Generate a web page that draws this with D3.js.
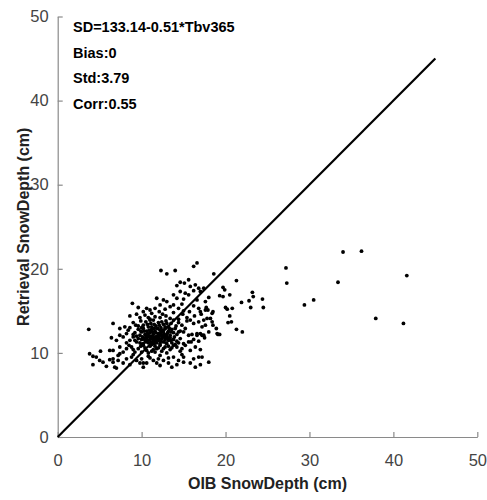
<!DOCTYPE html>
<html>
<head>
<meta charset="utf-8">
<script src="https://cdn.jsdelivr.net/npm/d3@7"></script>
<style>
  body { margin: 0; background: #fff; }
  text { font-family: "Liberation Sans", Arial, sans-serif; }
</style>
</head>
<body>
<svg id="chart"></svg>
<script>
// OIB snow depth vs retrieved snow depth (cm)
const points = [
  // y 8-9
  [4.2,8.6],[5.8,8.4],[6.8,8.3],[7.0,8.2],[7.8,8.8],[8.6,8.6],[9.8,8.8],[10.2,8.3],[10.2,8.8],[10.6,8.8],
  [11.8,8.8],[13.2,8.8],[13.6,8.3],[15.0,8.9],[15.8,8.8],[16.4,8.3],[17.0,8.6],[18.0,8.9],[12.2,8.5],[14.2,8.6],
  // y 9-10
  [3.8,9.9],[4.2,9.6],[4.6,9.5],[5.0,9.1],[5.4,8.9],[6.2,9.2],[6.6,8.9],[6.6,9.3],[7.2,9.1],[7.2,9.7],
  [7.4,9.9],[8.8,9.5],[9.4,9.1],[10.0,9.3],[11.4,9.1],[12.6,9.1],[13.8,9.5],[14.4,9.1],[15.0,9.5],[16.2,9.3],
  [16.8,9.5],[17.2,9.5],[12.2,9.7],[10.8,9.6],[9.0,9.8],[11.0,9.4],[13.2,9.4],[12.0,9.3],[14.8,9.8],[8.2,9.3],
  // y 10-11
  [5.1,10.2],[6.2,10.3],[6.6,10.3],[7.4,10.7],[7.8,10.1],[8.2,10.5],[8.8,10.7],[9.2,10.1],[9.6,10.5],[10.0,10.1],
  [10.8,10.0],[11.6,10.1],[13.0,10.0],[14.2,10.7],[14.8,10.5],[15.8,10.3],[17.0,10.4],[10.4,10.6],[11.0,10.8],[11.4,10.4],
  [12.0,10.6],[12.4,10.2],[12.8,10.7],[13.4,10.4],[13.8,10.9],[9.9,10.8],[10.6,10.3],[12.2,10.9],[11.8,10.5],[13.2,10.8],
  [16.4,10.7],[15.2,10.9],[9.0,10.4],[8.5,10.9],[14.6,10.2],[11.2,10.2],[12.6,10.5],[10.2,10.9],[13.6,10.6],[11.6,10.8],
  // y 11-12
  [6.4,11.8],[7.0,11.5],[7.8,11.9],[8.6,11.5],[9.0,11.9],[9.4,11.3],[14.6,11.7],[15.0,11.1],[15.6,11.3],[15.9,11.3],
  [9.8,11.2],[10.0,11.6],[10.2,11.1],[10.4,11.5],[10.6,11.8],[10.8,11.2],[11.0,11.6],[11.2,11.0],[11.4,11.4],[11.6,11.8],
  [11.8,11.2],[12.0,11.5],[12.2,11.1],[12.4,11.7],[12.6,11.3],[12.8,11.6],[13.0,11.1],[13.2,11.5],[13.4,11.8],[13.6,11.2],
  [13.8,11.6],[14.0,11.0],[14.2,11.4],[10.1,11.9],[10.9,11.9],[11.3,11.7],[11.7,11.5],[12.5,11.9],[12.9,11.2],[13.5,11.5],
  [9.6,11.7],[16.2,11.6],[16.8,11.4],[17.5,11.8],[8.2,11.2],[10.5,11.3],[11.1,11.3],[12.3,11.4],[11.9,11.8],[10.3,11.7],
  [9.2,11.5],[10.7,11.5],[11.5,11.1],[12.7,11.9],[13.1,11.8],[14.4,11.2],[12.1,11.7],[11.3,11.9],[10.0,11.0],[13.9,11.9],
  // y 12-13
  [7.4,12.1],[8.2,12.3],[8.4,12.7],[7.4,12.9],[9.2,12.4],[9.6,12.8],[9.8,12.1],[10.0,12.5],[10.2,12.9],[10.4,12.2],
  [10.6,12.6],[10.8,12.1],[11.0,12.4],[11.2,12.8],[11.4,12.2],[11.6,12.6],[11.8,12.0],[12.0,12.3],[12.2,12.7],[12.4,12.1],
  [12.6,12.5],[12.8,12.9],[13.0,12.2],[13.2,12.6],[13.4,12.1],[13.6,12.8],[13.8,12.4],[14.2,12.2],[14.6,12.6],[15.0,12.5],
  [15.6,12.1],[16.0,12.2],[16.6,12.3],[17.2,12.1],[17.0,12.3],[17.4,12.1],[18.0,12.5],[19.0,12.3],[19.1,12.2],[19.3,12.2],
  [18.9,12.9],[16.6,12.1],[10.3,12.6],[11.1,12.0],[11.5,12.9],[12.3,12.4],[12.9,12.0],[13.5,12.5],[10.9,12.7],[14.0,12.9],
  [15.2,12.9],[9.4,12.0],[3.7,12.8],[21.3,12.8],[22.0,12.5],[10.7,12.3],[11.3,12.5],[12.1,12.0],[11.9,12.9],[12.7,12.2],
  [9.0,12.2],[9.9,12.6],[11.7,12.4],[12.5,12.7],[13.3,12.9],[10.5,12.0],[14.4,12.5],[13.1,12.4],
  // y 13-14
  [6.6,13.5],[8.0,13.1],[9.0,13.6],[9.6,13.2],[9.9,13.8],[10.2,13.3],[10.5,13.7],[10.8,13.1],[11.1,13.5],[11.4,13.9],
  [11.7,13.2],[12.0,13.6],[12.3,13.0],[12.6,13.4],[12.9,13.8],[13.2,13.1],[13.5,13.5],[13.8,13.9],[14.1,13.2],[14.4,13.6],
  [14.8,13.3],[15.8,13.9],[16.2,13.5],[16.8,13.7],[17.2,13.1],[17.6,13.3],[17.4,13.9],[18.5,13.3],[18.4,13.7],[15.4,13.8],
  [10.0,13.0],[11.0,13.9],[12.4,13.7],[11.5,13.4],[13.0,13.5],[20.3,13.6],[20.7,13.7],[37.9,14.1],[41.2,13.5],[8.6,13.0],
  [9.3,13.3],[10.7,13.4],[12.1,13.3],[11.2,13.1],[12.8,13.1],
  // y 14-15
  [8.6,14.4],[9.8,14.2],[10.2,14.9],[10.4,14.5],[10.8,14.2],[11.2,14.7],[11.6,14.3],[12.1,14.9],[12.5,14.6],[12.2,14.2],
  [12.9,14.4],[13.8,14.8],[13.4,14.1],[14.9,14.6],[15.4,14.2],[15.7,14.9],[16.3,14.4],[17.1,14.6],[17.0,14.9],[18.2,14.1],
  [18.4,14.7],[18.5,14.9],[17.8,14.1],[20.5,14.4],[11.0,14.0],[9.4,14.6],[14.4,14.0],
  // y 15-16
  [8.9,15.9],[10.6,15.3],[11.0,15.1],[11.6,15.3],[12.2,15.7],[13.4,15.5],[13.8,15.7],[14.4,15.3],[16.8,15.3],[17.6,15.1],
  [17.7,15.4],[17.9,15.1],[20.0,15.4],[20.2,15.2],[20.8,15.3],[23.0,15.4],[24.5,15.4],[12.8,15.2],[14.8,15.8],[16.2,15.6],
  [9.6,15.4],[15.0,15.0],[29.4,15.7],
  // y 16-17
  [11.8,16.5],[12.6,16.3],[13.0,16.1],[14.2,16.5],[15.6,16.9],[13.8,16.9],[17.6,16.1],[19.3,16.8],[19.7,16.7],[20.5,16.9],
  [21.9,16.0],[22.8,16.2],[23.3,16.7],[24.4,16.4],[15.0,16.4],[16.6,16.3],[18.0,16.6],[30.5,16.3],
  // y 17-18
  [14.6,17.3],[15.2,17.1],[15.8,17.9],[16.8,17.7],[17.0,17.3],[17.4,17.7],[19.9,17.5],[19.7,17.8],[23.2,17.2],[14.2,18.0],
  [16.2,17.4],
  // y 18 and above
  [14.6,18.4],[15.1,18.3],[16.4,18.1],[21.3,18.6],[27.3,18.3],[33.4,18.4],[15.6,18.7],
  [12.3,19.8],[13.0,19.4],[14.0,19.8],[16.2,20.3],[16.6,20.7],[18.6,19.4],[27.2,20.1],[41.6,19.2],[34.0,22.0],[36.2,22.1]
];

const xTicks = [0, 10, 20, 30, 40, 50];
const yTicks = [0, 10, 20, 30, 40, 50];
const oneToOne = [0, 45];
const statLines = ["SD=133.14-0.51*Tbv365", "Bias:0", "Std:3.79", "Corr:0.55"];

const svg = d3.select("#chart")
  .attr("width", 487)
  .attr("height", 500);

const x = d3.scaleLinear().domain([0, 50]).range([57.7, 477.3]);
const y = d3.scaleLinear().domain([0, 50]).range([437, 16.5]);

// axes
const xAxis = svg.append("g")
  .attr("transform", `translate(0,${y(0)})`)
  .call(d3.axisBottom(x).tickValues(xTicks).tickSizeInner(-5).tickSizeOuter(0).tickPadding(17));

const yAxis = svg.append("g")
  .attr("transform", `translate(${x(0)},0)`)
  .call(d3.axisLeft(y).tickValues(yTicks).tickSizeInner(-5).tickSizeOuter(0).tickPadding(9));

[xAxis, yAxis].forEach(g => {
  g.select(".domain").attr("stroke", "#8a8a8a").attr("stroke-width", 1.2);
  g.selectAll(".tick line").attr("stroke", "#8a8a8a").attr("stroke-width", 1.2);
  g.selectAll(".tick text")
    .attr("fill", "#444")
    .style("font-size", "16.5px");
});

// 1:1 line
svg.append("line")
  .attr("x1", x(oneToOne[0]))
  .attr("y1", y(oneToOne[0]))
  .attr("x2", x(oneToOne[1]))
  .attr("y2", y(oneToOne[1]))
  .attr("stroke", "#000")
  .attr("stroke-width", 2.2);

// scatter
svg.append("g")
  .selectAll("circle")
  .data(points)
  .join("circle")
  .attr("cx", d => x(d[0]))
  .attr("cy", d => y(d[1]))
  .attr("r", 1.9)
  .attr("fill", "#000");

// stats text
svg.append("g")
  .selectAll("text")
  .data(statLines)
  .join("text")
  .attr("x", 73)
  .attr("y", (d, i) => 32 + i * 25.5)
  .attr("fill", "#000")
  .style("font-size", "14.5px")
  .style("font-weight", "bold")
  .text(d => d);

// axis titles
svg.append("text")
  .attr("x", x(25))
  .attr("y", 489)
  .attr("text-anchor", "middle")
  .attr("fill", "#222")
  .style("font-size", "16px")
  .style("font-weight", "bold")
  .text("OIB SnowDepth (cm)");

svg.append("text")
  .attr("transform", `translate(29,${y(25)}) rotate(-90)`)
  .attr("text-anchor", "middle")
  .attr("fill", "#222")
  .style("font-size", "16px")
  .style("font-weight", "bold")
  .text("Retrieval SnowDepth (cm)");
</script>
</body>
</html>
